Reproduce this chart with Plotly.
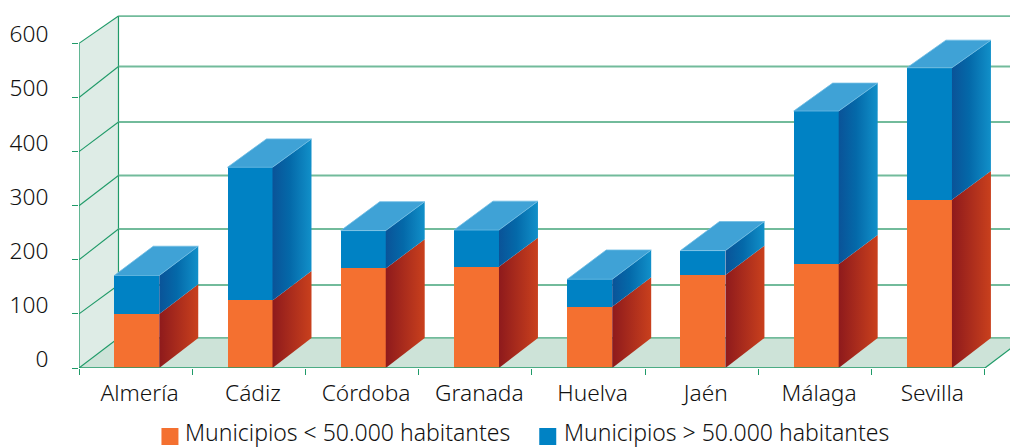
import plotly.graph_objects as go

provincias = ["Almería", "Cádiz", "Córdoba", "Granada", "Huelva", "Jaén", "Málaga", "Sevilla"]
menos_50000 = [100, 125, 184, 187, 113, 172, 192, 311]
mas_50000 = [71, 246, 70, 68, 51, 45, 283, 244]
nombre_menos = "Municipios < 50.000 habitantes"
nombre_mas = "Municipios > 50.000 habitantes"
ticks_y = [0, 100, 200, 300, 400, 500, 600]
back_levels = [55.5, 153.4, 256.9, 355.8, 454.7, 557.3, 650.6]

FONT = "Noto Sans"
TXT = "#111111"
W, H = 1010, 448
X0_PX, Y0_PX = 78.5, 368
PX_X = 113.3
PX_Y = 0.541
xr = (W - X0_PX) / PX_X
top_m = 8
yr = (Y0_PX - top_m) / PX_Y

depth_x = 39.5 / PX_X
bar_depth_x = 39 / PX_X
depth_v = 30 / PX_Y
back_k = 0.992
bar_w = 45 / PX_X
bar_shift = 35.3 / PX_X
GRID = "#72bb9b"
AXIS = "#1f9a68"
WALL = "#deece6"
FLOOR = "#cde3d8"

cats = [i + 0.5 for i in range(len(provincias))]
back = lambda v: depth_v + v * back_k


def poly(points):
    return "M" + "L".join(f"{a},{b}" for a, b in points) + "Z"


shapes = [
    dict(type="path", layer="below", xref="x", yref="y", line_width=0, fillcolor=WALL,
         path=poly([(0, 0), (0, 600), (depth_x, back_levels[-1]), (depth_x, back_levels[0])])),
    dict(type="path", layer="below", xref="x", yref="y", line_width=0, fillcolor=FLOOR,
         path=poly([(0, 0), (depth_x, back_levels[0]), (8 + depth_x, back_levels[0]), (8, 0)])),
    dict(type="line", layer="below", xref="x", yref="y", x0=depth_x, x1=depth_x, y0=back_levels[0], y1=back_levels[-1],
         line=dict(color=AXIS, width=1.2)),
    dict(type="line", layer="below", xref="x", yref="y", x0=8, x1=8 + depth_x, y0=0, y1=back_levels[0],
         line=dict(color=AXIS, width=1.2)),
]
for t, b in zip(ticks_y, back_levels):
    shapes.append(dict(type="line", layer="below", xref="x", yref="y", x0=depth_x, x1=xr + 1, y0=b, y1=b,
                       line=dict(color=GRID, width=1.8)))
    shapes.append(dict(type="line", layer="below", xref="x", yref="y", x0=0, x1=depth_x, y0=t, y1=b,
                       line=dict(color=AXIS, width=1.1)))

# legend swatches
for px0, col in [(161, "#f47030"), (539, "#0082c4")]:
    shapes.append(dict(type="rect", xref="paper", yref="paper", line_width=0, fillcolor=col,
                       x0=(px0 - X0_PX) / (W - X0_PX), x1=(px0 + 17 - X0_PX) / (W - X0_PX),
                       y0=(Y0_PX - 445) / (Y0_PX - top_m), y1=(Y0_PX - 428) / (Y0_PX - top_m)))

fig = go.Figure()
fig.add_bar(x=cats, y=menos_50000, name=nombre_menos, width=bar_w, offset=bar_shift - 0.5,
            marker=dict(color="#f47030", line_width=0), showlegend=False)
fig.add_bar(x=cats, y=mas_50000, name=nombre_mas, width=bar_w, offset=bar_shift - 0.5,
            marker=dict(color="#0082c4", line_width=0), showlegend=False)

ORANGE_G = [[0, "#8e1a1c"], [1, "#c9401d"]]
BLUE_G = [[0, "#0a5398"], [0.45, "#0469a9"], [1, "#1190c9"]]

for c, a, b in zip(cats, menos_50000, mas_50000):
    xf = c - 0.5 + bar_shift + bar_w
    xb = xf + bar_depth_x
    t = a + b
    for lo, hi, scale in [(0, a, ORANGE_G), (a, t, BLUE_G)]:
        fig.add_scatter(x=[xf, xb, xb, xf, xf], y=[lo, back(lo), back(hi), hi, lo],
                        mode="lines", line=dict(width=0), fill="toself",
                        fillgradient=dict(type="horizontal", colorscale=scale),
                        hoverinfo="skip", showlegend=False)
    xl = xf - bar_w
    fig.add_scatter(x=[xl, xf, xb, xl + bar_depth_x, xl], y=[t, t, back(t), back(t), t],
                    mode="lines", line=dict(width=0.8, color="#6fbde3"), fill="toself",
                    fillcolor="#3fa2d6", hoverinfo="skip", showlegend=False)

# axis lines
fig.add_scatter(x=[0, 0], y=[0, 600], mode="lines", line=dict(color=AXIS, width=1.3),
                cliponaxis=False, hoverinfo="skip", showlegend=False)
fig.add_scatter(x=[0, 8], y=[0, 0], mode="lines", line=dict(color=AXIS, width=1.3),
                cliponaxis=False, hoverinfo="skip", showlegend=False)

annotations = []
for px, txt in [(184, nombre_menos), (563, nombre_mas)]:
    annotations.append(dict(text=txt, xref="paper", yref="paper", xanchor="left", yanchor="middle",
                            x=(px - X0_PX) / (W - X0_PX), y=(Y0_PX - 431.5) / (Y0_PX - top_m),
                            showarrow=False, borderpad=0,
                            font=dict(family=FONT, size=23, color=TXT, weight=300)))

tick_font = dict(family=FONT, size=22.7, color=TXT, weight=300)
fig.update_layout(
    width=W, height=H, autosize=False, barmode="stack", bargap=0,
    margin=dict(l=X0_PX, r=0, t=top_m, b=H - Y0_PX, pad=0),
    paper_bgcolor="white", plot_bgcolor="white", showlegend=False,
    shapes=shapes, annotations=annotations,
    font=dict(family=FONT, size=22, color=TXT),
    xaxis=dict(range=[0, xr], tickvals=cats, ticktext=provincias, ticks="", ticklen=0, tickfont=tick_font,
               showgrid=False, zeroline=False, showline=False, ticklabelshift=4, ticklabelstandoff=9,
               minor=dict(tick0=0, dtick=1, ticks="outside", ticklen=6, tickcolor=AXIS, tickwidth=1.2, showgrid=False)),
    yaxis=dict(range=[0, yr], tickvals=ticks_y, ticks="outside", ticklen=6, tickcolor=AXIS, tickwidth=1.2,
               tickfont=tick_font, showgrid=False, zeroline=False, showline=False,
               ticklabelshift=-9, ticklabelstandoff=19),
)
fig.write_html("out.html", default_width="1010px", default_height="448px",
               config=dict(displayModeBar=False),
               post_script="document.body.style.margin='0';")
